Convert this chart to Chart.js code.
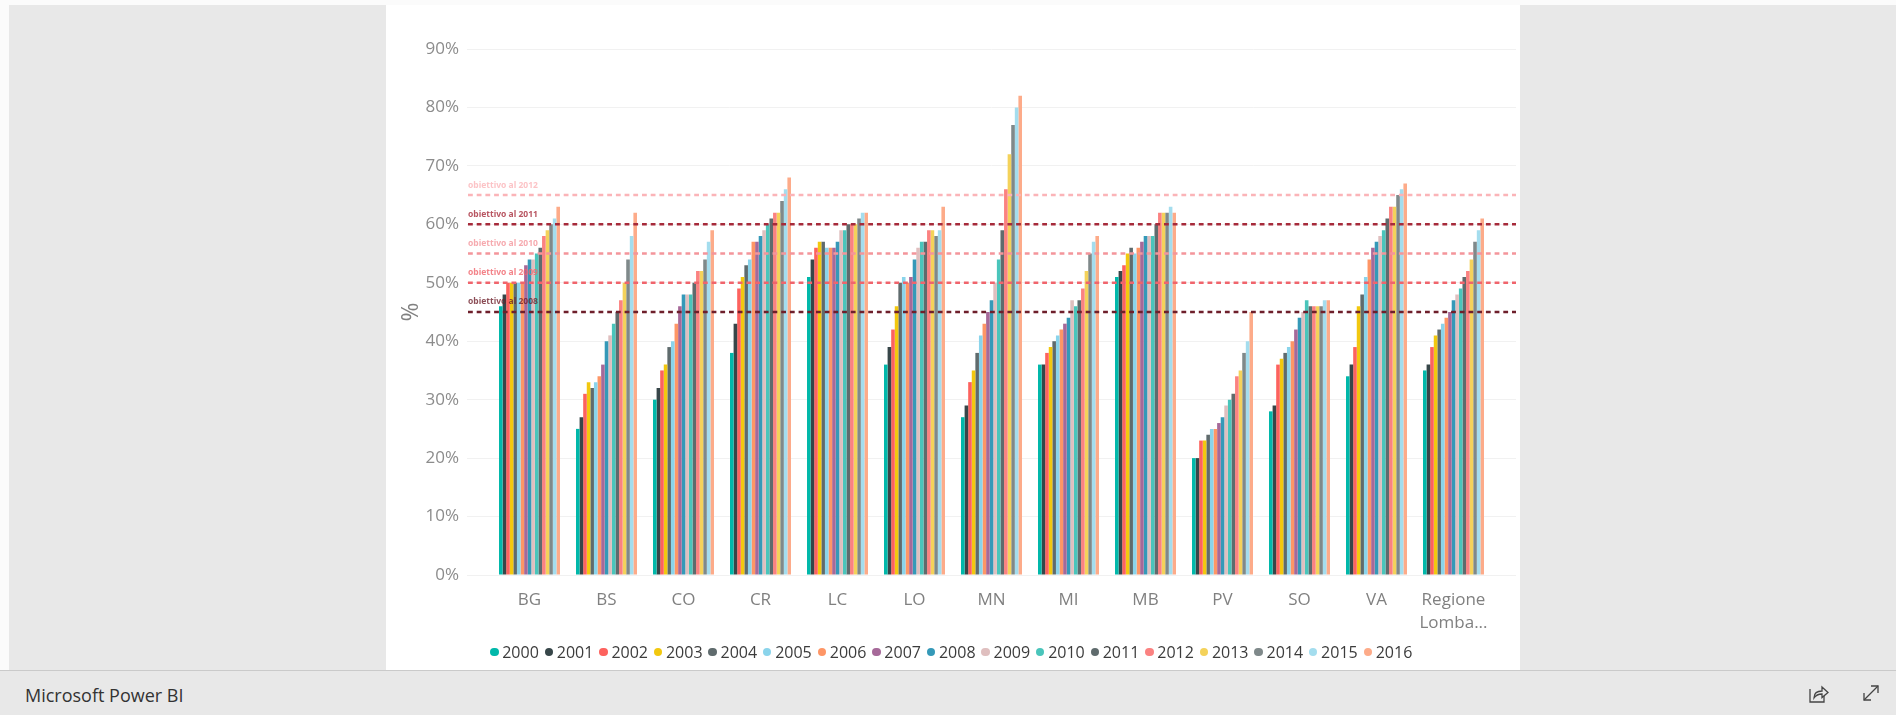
<!DOCTYPE html>
<html>
<head>
<meta charset="utf-8">
<title>Microsoft Power BI</title>
<script src="https://cdn.jsdelivr.net/npm/chart.js@4"></script>
<style>
    html, body { margin: 0; padding: 0; width: 1896px; height: 715px; overflow: hidden; background: #e8e8e8; font-family: "Open Sans", sans-serif; }
    #topStrip { position: absolute; left: 0; top: 0; width: 1896px; height: 5px; background: #fbfbfb; }
    #leftStrip { position: absolute; left: 0; top: 0; width: 9px; height: 670px; background: #fbfbfb; }
    #panel { position: absolute; left: 386px; top: 5px; width: 1134px; height: 665px; background: #fff; }
    #chartBox { position: absolute; left: 386px; top: 5px; width: 1134px; height: 664px; }
    #legend { position: absolute; left: 490px; top: 641px; display: flex; font-size: 16px; line-height: 22px; color: #3c3c3c; }
    #legend div { width: 54.6px; display: flex; align-items: center; }
    #legend i { width: 8.5px; height: 8.5px; border-radius: 50%; margin-right: 3.7px; }
    #footer { position: absolute; left: 0; top: 670px; width: 1896px; height: 45px; border-top: 1px solid #cacaca; box-sizing: border-box; background: #e8e8e8; }
    #footer span { position: absolute; left: 25px; top: 12px; font-size: 18px; color: #333; }
    #footer svg { position: absolute; top: 12px; }
</style>
</head>
<body>
<div id="topStrip"></div>
<div id="leftStrip"></div>
<div id="panel"></div>
<div id="footer">
    <span>Microsoft Power BI</span>
    <svg style="left:1808px" width="22" height="22" viewBox="0 0 22 22" fill="none" stroke="#444" stroke-width="1.3">
        <path d="M2 6v13h14v-6"/><path d="M6 15c0-5 3-7 8-7V4l6 5.5-6 5v-3.5c-3 0-6 1-8 4z"/>
    </svg>
    <svg style="left:1861px" width="20" height="20" viewBox="0 0 20 20" fill="none" stroke="#444" stroke-width="1.3">
        <path d="M3 17L17 3"/><path d="M10 3h7v7"/><path d="M3 10v7h7"/>
    </svg>
</div>
<div id="chartBox"><canvas id="bandaChart" width="1134" height="664"></canvas></div>
<div id="legend"></div>

<script>
const categories = ["BG", "BS", "CO", "CR", "LC", "LO", "MN", "MI", "MB", "PV", "SO", "VA", ["Regione", "Lomba..."]];
const years = ["2000", "2001", "2002", "2003", "2004", "2005", "2006", "2007", "2008", "2009", "2010", "2011", "2012", "2013", "2014", "2015", "2016"];
const yearColors = ["#01B8AA", "#374649", "#FD625E", "#F2C80F", "#5F6B6D", "#8AD4EB", "#FE9666", "#A66999", "#3599B8", "#DFBFBF", "#4AC5BB", "#5F6B6D", "#FB8281", "#F4D25A", "#7F898A", "#A4DDEE", "#FDAB89"];

// one row per province, one value per year
const valuesBG = [46, 48, 50, 50, 50, 50, 50, 53, 54, 54, 55, 56, 58, 59, 60, 61, 63];
const valuesBS = [25, 27, 31, 33, 32, 33, 34, 36, 40, 41, 43, 45, 47, 50, 54, 58, 62];
const valuesCO = [30, 32, 35, 36, 39, 40, 43, 46, 48, 48, 48, 50, 52, 52, 54, 57, 59];
const valuesCR = [38, 43, 49, 51, 53, 54, 57, 57, 58, 59, 60, 61, 62, 62, 64, 66, 68];
const valuesLC = [51, 54, 56, 57, 57, 56, 56, 56, 57, 59, 59, 60, 60, 60, 61, 62, 62];
const valuesLO = [36, 39, 42, 46, 50, 51, 50, 51, 54, 56, 57, 57, 59, 59, 58, 59, 63];
const valuesMN = [27, 29, 33, 35, 38, 41, 43, 45, 47, 50, 54, 59, 66, 72, 77, 80, 82];
const valuesMI = [36, 36, 38, 39, 40, 41, 42, 43, 44, 47, 46, 47, 49, 52, 55, 57, 58];
const valuesMB = [51, 52, 53, 55, 56, 55, 56, 57, 58, 58, 58, 60, 62, 62, 62, 63, 62];
const valuesPV = [20, 20, 23, 23, 24, 25, 25, 26, 27, 29, 30, 31, 34, 35, 38, 40, 45];
const valuesSO = [28, 29, 36, 37, 38, 39, 40, 42, 44, 45, 47, 46, 46, 46, 46, 47, 47];
const valuesVA = [34, 36, 39, 46, 48, 51, 54, 56, 57, 58, 59, 61, 63, 63, 65, 66, 67];
const valuesRL = [35, 36, 39, 41, 42, 43, 44, 45, 47, 48, 49, 51, 52, 54, 57, 59, 61];
const provinceRows = [valuesBG, valuesBS, valuesCO, valuesCR, valuesLC, valuesLO, valuesMN, valuesMI, valuesMB, valuesPV, valuesSO, valuesVA, valuesRL];

const goalLabels = ["obiettivo al 2008", "obiettivo al 2009", "obiettivo al 2010", "obiettivo al 2011", "obiettivo al 2012"];
const goalValues = [45, 50, 55, 60, 65];
const goalColors = ["#6e1f2b", "#f0646c", "#f4959b", "#a62a3a", "#fbb4b8"];

// Category axis that leaves some room at both ends of the plot, like Power BI does
class InsetCategoryScale extends Chart.CategoryScale {
    static id = "insetCategory";
    static defaults = Chart.CategoryScale.defaults;
    configure() {
        super.configure();
        this._startPixel += 24;
        this._length -= 48;
    }
}
Chart.register(InsetCategoryScale);

// Target lines run over the whole plot width, with their caption on top of the bars.
// A line dataset would need a second x axis, and Chart.js 4.5 then halves the bar width.
const goalLinePlugin = {
    id: "goalLines",
    afterDatasetsDraw(chart) {
        const ctx = chart.ctx;
        const area = chart.chartArea;
        const yScale = chart.scales.y;
        ctx.save();
        ctx.font = "bold 8.5px 'Noto Sans'";
        ctx.textBaseline = "middle";
        ctx.lineWidth = 2.5;
        ctx.setLineDash([4.8, 3.9]);
        goalLabels.forEach((label, i) => {
            const y = yScale.getPixelForValue(goalValues[i]);
            ctx.globalAlpha = 1;
            ctx.strokeStyle = goalColors[i];
            ctx.beginPath();
            ctx.moveTo(area.left + 1, y);
            ctx.lineTo(area.right, y);
            ctx.stroke();
            ctx.globalAlpha = 0.8;
            ctx.fillStyle = goalColors[i];
            ctx.fillText(label, area.left + 1, y - 10);
        });
        ctx.restore();
    }
};

const barSets = years.map((year, i) => ({
    label: year,
    data: provinceRows.map(row => row[i]),
    backgroundColor: yearColors[i],
    borderWidth: 0
}));

// Legend row under the chart
const legendBox = document.getElementById("legend");
years.forEach((year, i) => {
    const item = document.createElement("div");
    item.innerHTML = `<i style="background:${yearColors[i]}"></i>${year}`;
    legendBox.appendChild(item);
});

new Chart(document.getElementById("bandaChart"), {
    type: "bar",
    data: { labels: categories, datasets: barSets },
    plugins: [goalLinePlugin],
    options: {
        responsive: false,
        animation: false,
        layout: { padding: { top: 44, right: 4, left: 0, bottom: 0 } },
        datasets: { bar: { categoryPercentage: 0.792, barPercentage: 1 } },
        plugins: {
            tooltip: { enabled: false },
            legend: { display: false }
        },
        scales: {
            x: {
                type: "insetCategory",
                offset: true,
                grid: { display: false },
                border: { display: false },
                afterFit: scale => { scale.height = 94; },
                ticks: {
                    color: "#808080",
                    padding: 6,
                    maxRotation: 0,
                    autoSkip: false,
                    font: { family: "'Open Sans'", size: 17, lineHeight: 1.35 }
                }
            },
            y: {
                min: 0,
                max: 90,
                afterFit: scale => { scale.width = 81; },
                grid: { color: "#f1f1f1", drawTicks: false },
                border: { display: false },
                title: {
                    display: true,
                    text: "%",
                    color: "#808080",
                    padding: { top: 12, bottom: 0 },
                    font: { family: "'Open Sans'", size: 23 }
                },
                ticks: {
                    stepSize: 10,
                    color: "#8c8c8c",
                    padding: 8,
                    callback: v => v + "%",
                    font: { family: "'Open Sans'", size: 17 }
                }
            }
        }
    }
});
</script>
</body>
</html>
